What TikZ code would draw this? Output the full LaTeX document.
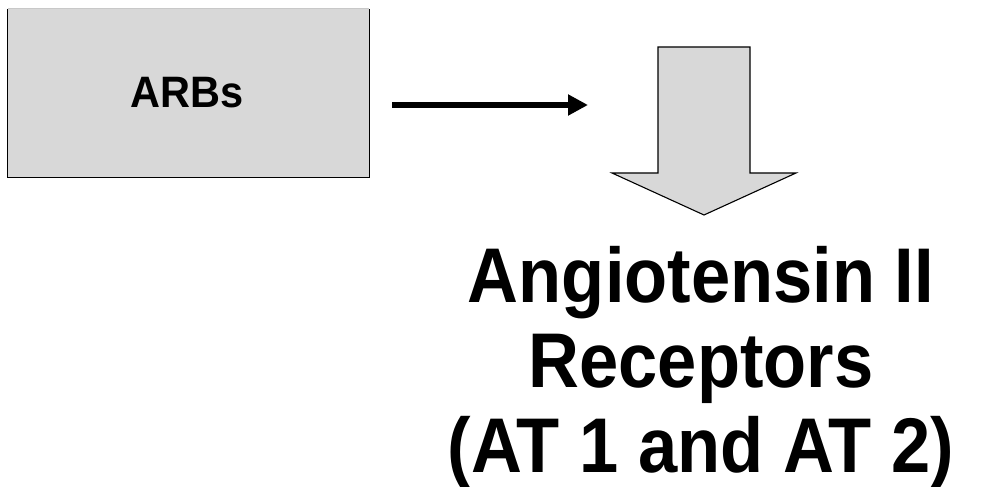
\documentclass[tikz,border=0pt]{standalone}
\usepackage{fontspec}
\setmainfont{Liberation Sans}
\usepackage{graphicx}
\usetikzlibrary{arrows.meta}
\definecolor{boxgray}{HTML}{D8D8D8}
\definecolor{topedge}{HTML}{C8C8C8}
\begin{document}
\begin{tikzpicture}[x=1pt,y=1pt,
  greybox/.style={fill=boxgray,inner sep=0pt},
  boxedge/.style={draw=black,line width=1.3pt},
  connector/.style={line width=6.5pt,-{Triangle[length=20pt,width=20pt]}},
  blockarrow/.style={draw=black,line width=1.1pt,fill=boxgray,line join=miter},
  bigtext/.style={inner sep=0pt,anchor=base,font=\bfseries}]
\useasboundingbox (0,0) rectangle (988,487);
% ARBs box (open at top)
\node[greybox,minimum width=361pt,minimum height=168pt] (arbs) at (188.5,394) {};
\draw[topedge,line width=0.6pt] (arbs.north west) -- (arbs.north east);
\draw[boxedge] (arbs.north west) -- (arbs.south west) -- (arbs.south east) -- (arbs.north east);
\node[bigtext] (arbslabel) at (187,379) {\scalebox{1}[1.06]{\fontsize{41.5}{41.5}\selectfont ARBs}};
% down block arrow
\draw[blockarrow] (658,440) -- (750,440) -- (750,314) -- (796,314) -- (704,272) -- (612,314) -- (658,314) -- cycle;
\coordinate (downarrow) at (588,382);
\coordinate (start) at (392,382);
% connector
\draw[connector] (start) -- (downarrow);
% receptor text
\node[bigtext] (receptors) at (701,184) {\scalebox{1}[1.1]{\fontsize{70.5}{77}\selectfont\begin{tabular}[t]{@{}c@{}}Angiotensin II\\Receptors\\(AT 1 and AT 2)\end{tabular}}};
\end{tikzpicture}
\end{document}
